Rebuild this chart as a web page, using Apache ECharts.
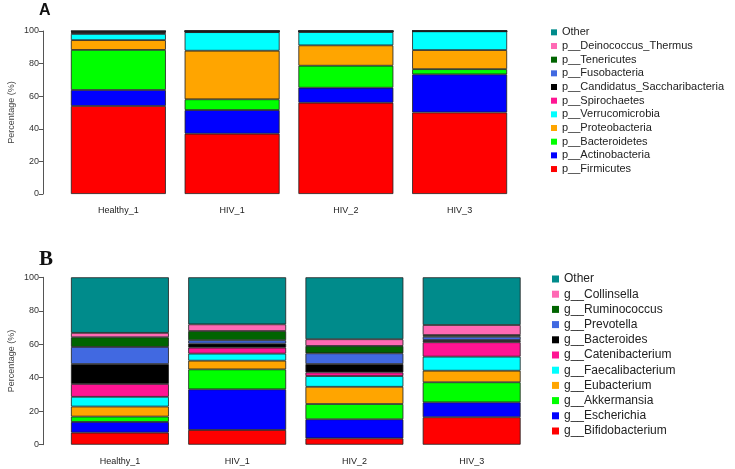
<!DOCTYPE html>
<html>
<head>
  <meta charset="utf-8">
  <title>Relative abundance</title>
  <script src="https://cdn.jsdelivr.net/npm/echarts@6/dist/echarts.min.js"></script>
  <style>
    html, body { margin: 0; padding: 0; background: #fff; }
    #chart { width: 735px; height: 469px; }
  </style>
</head>
<body>
  <div id="chart"></div>
  <script>
  var samples = ['Healthy_1', 'HIV_1', 'HIV_2', 'HIV_3'];
  var yTicks = [0, 20, 40, 60, 80, 100];

  // panel A, phylum level (%), bottom to top
  var phylumNames = ['p__Firmicutes', 'p__Actinobacteria', 'p__Bacteroidetes', 'p__Proteobacteria',
    'p__Verrucomicrobia', 'p__Spirochaetes', 'p__Candidatus_Saccharibacteria', 'p__Fusobacteria',
    'p__Tenericutes', 'p__Deinococcus_Thermus', 'Other'];
  var pFirmicutes = [54, 37, 56, 50];
  var pActinobacteria = [9.8, 14.5, 9.2, 23.4];
  var pBacteroidetes = [24.6, 6.6, 13.5, 3.2];
  var pProteobacteria = [6, 29.8, 12.5, 11.7];
  var pVerrucomicrobia = [3.8, 11.4, 8.2, 11.5];
  var pSpirochaetes = [0.7, 0.1, 0.1, 0];
  var pCandidatus = [0.4, 0.5, 0.4, 0.1];
  var pFusobacteria = [0.3, 0, 0, 0];
  var pTenericutes = [0.2, 0, 0, 0];
  var pDeinococcus = [0.1, 0, 0, 0];
  var pOther = [0.1, 0.1, 0.1, 0.1];
  var phylumValues = [pFirmicutes, pActinobacteria, pBacteroidetes, pProteobacteria, pVerrucomicrobia,
    pSpirochaetes, pCandidatus, pFusobacteria, pTenericutes, pDeinococcus, pOther];

  // panel B, genus level (%), bottom to top
  var genusNames = ['g__Bifidobacterium', 'g__Escherichia', 'g__Akkermansia', 'g__Eubacterium',
    'g__Faecalibacterium', 'g__Catenibacterium', 'g__Bacteroides', 'g__Prevotella',
    'g__Ruminococcus', 'g__Collinsella', 'Other'];
  var gBifidobacterium = [7.2, 8.8, 3.8, 16.4];
  var gEscherichia = [6.4, 24.3, 11.4, 8.9];
  var gAkkermansia = [3.2, 11.9, 9.1, 12];
  var gEubacterium = [6, 5.2, 10.3, 6.9];
  var gFaecalibacterium = [5.8, 4.2, 6.4, 8.4];
  var gCatenibacterium = [7.7, 3.6, 2.2, 8.6];
  var gBacteroides = [11.9, 2.4, 5, 1.3];
  var gPrevotella = [10.2, 2, 6.4, 2];
  var gRuminococcus = [5.8, 5.5, 4.4, 1];
  var gCollinsella = [2.6, 4, 4, 6];
  var gOther = [33.2, 28.1, 37, 28.5];
  var genusValues = [gBifidobacterium, gEscherichia, gAkkermansia, gEubacterium, gFaecalibacterium,
    gCatenibacterium, gBacteroides, gPrevotella, gRuminococcus, gCollinsella, gOther];

  // same colour order for both panels
  var palette = ['#ff0000', '#0000ff', '#00ff00', '#ffa500', '#00ffff', '#ff1493',
    '#000000', '#4169e1', '#006400', '#ff69b4', '#008b8b'];

  var font = 'Liberation Sans, Arial, sans-serif';

  function makeSeries(names, values, idx) {
    return names.map(function (n, i) {
      return {
        name: n,
        type: 'bar',
        stack: 'panel' + idx,
        xAxisIndex: idx,
        yAxisIndex: idx,
        barCategoryGap: '16.5%',
        itemStyle: { color: palette[i], borderColor: '#1e1e1e', borderWidth: 0.8 },
        data: values[i]
      };
    });
  }

  function makeY(idx, off) {
    return {
      type: 'value', gridIndex: idx, min: 0, max: 100, interval: 20,
      offset: off,
      name: 'Percentage (%)', nameLocation: 'middle', nameGap: 27, nameMoveOverlap: false,
      nameTextStyle: { fontSize: 9, color: '#444', fontFamily: font },
      axisLine: { show: true, lineStyle: { color: '#555', width: 1 } },
      axisTick: { show: true, length: 4, lineStyle: { color: '#555' } },
      axisLabel: { fontSize: 9, color: '#333', margin: 4, fontFamily: font },
      splitLine: { show: false }
    };
  }

  function makeX(idx) {
    return {
      type: 'category', gridIndex: idx, data: samples,
      axisLine: { show: false }, axisTick: { show: false },
      axisLabel: { fontSize: 9, color: '#222', margin: 12, fontFamily: font }
    };
  }

  var chart = echarts.init(document.getElementById('chart'));
  chart.setOption({
    animation: false,
    title: [
      { text: 'A', left: 39, top: 3, padding: 0,
        textStyle: { fontSize: 16, fontWeight: 'bold', color: '#111', fontFamily: font } },
      { text: 'B', left: 39, top: 249, padding: 0,
        textStyle: { fontSize: 21, fontWeight: 'bold', color: '#111', fontFamily: 'Liberation Serif, Times New Roman, serif' } }
    ],
    grid: [
      { left: 61.5, top: 31, width: 455, height: 163, containLabel: false, outerBoundsMode: 'none' },
      { left: 61.3, top: 277.3, width: 469, height: 167.4, containLabel: false, outerBoundsMode: 'none' }
    ],
    xAxis: [makeX(0), makeX(1)],
    yAxis: [makeY(0, 18.5), makeY(1, 18.3)],
    legend: [
      {
        orient: 'vertical', left: 551, top: 25.5, padding: 0,
        itemWidth: 6, itemHeight: 6, itemGap: 0, icon: 'rect',
        itemStyle: { borderWidth: 0 },
        textStyle: { fontSize: 11, lineHeight: 13.67, color: '#222', fontFamily: font },
        data: phylumNames.slice().reverse()
      },
      {
        orient: 'vertical', left: 552, top: 271.4, padding: 0,
        itemWidth: 7, itemHeight: 7, itemGap: 0, icon: 'rect',
        itemStyle: { borderWidth: 0 },
        textStyle: { fontSize: 12, lineHeight: 15.2, color: '#222', fontFamily: font },
        data: genusNames.slice().reverse()
      }
    ],
    series: makeSeries(phylumNames, phylumValues, 0).concat(makeSeries(genusNames, genusValues, 1))
  });
  </script>
</body>
</html>
